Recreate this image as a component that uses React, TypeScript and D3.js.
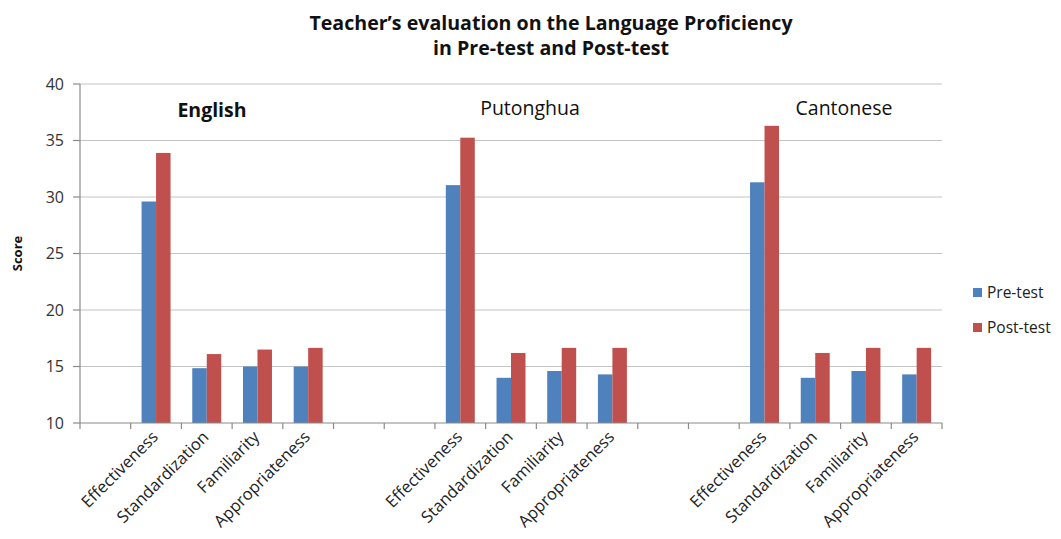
import React from "react";
import * as d3 from "d3";

const groups = ["English", "Putonghua", "Cantonese"];
const criteria = ["Effectiveness", "Standardization", "Familiarity", "Appropriateness"];
const series = ["Pre-test", "Post-test"];
const colours = ["#4F81BD", "#C0504D"];

// scores per group, in criteria order
const preTest = [
  [29.6, 14.85, 15.0, 15.0],
  [31.05, 14.0, 14.6, 14.3],
  [31.3, 14.0, 14.6, 14.3],
];
const postTest = [
  [33.9, 16.1, 16.5, 16.65],
  [35.25, 16.2, 16.65, 16.65],
  [36.3, 16.2, 16.65, 16.65],
];
const yTicks = [10, 15, 20, 25, 30, 35, 40];
const blanksBefore = [1, 2, 2];
const groupLabelX = [212, 530, 844];

const font = "'Open Sans', Lato, sans-serif";

type Slot = { id: string; label: string; g: number; c: number };

function buildSlots(): Slot[] {
  let slots: Slot[] = [];
  groups.forEach((g, gi) => {
    for (let b = 0; b < blanksBefore[gi]; b++) slots.push({ id: g + "-blank" + b, label: "", g: gi, c: -1 });
    criteria.forEach((c, ci) => slots.push({ id: g + "-" + c, label: c, g: gi, c: ci }));
  });
  return slots;
}

export default function App() {
  const width = 1061;
  const height = 539;
  const left = 80, right = 942, top = 84, bottom = 423;

  const slots = buildSlots();
  const x = d3.scaleBand<string>().domain(slots.map(s => s.id)).range([left, right]);
  const inner = d3.scaleBand<string>().domain(series).range([0, x.bandwidth()]).paddingOuter(0.75);
  const y = d3.scaleLinear().domain([10, 40]).range([bottom, top]);

  const tickXs = d3.range(slots.length + 1).map(i => left + i * x.step());

  return (
    <div style={{ position: "absolute", left: 0, top: 0 }}>
      <svg width={width} height={height} style={{ display: "block", fontFamily: font }}>
        <rect width={width} height={height} fill="#fff" />
        <text x={551} y={30} textAnchor="middle" fontSize={19.6} fontWeight="bold" fill="#111">
          Teacher’s evaluation on the Language Proficiency
        </text>
        <text x={551} y={55} textAnchor="middle" fontSize={19.6} fontWeight="bold" fill="#111">
          in Pre-test and Post-test
        </text>

        {yTicks.map(t => (
          <g key={t}>
            {t > 10 && <line x1={left} x2={right} y1={y(t)} y2={y(t)} stroke="#c4c4c4" strokeWidth={1.2} />}
            <line x1={left - 7} x2={left} y1={y(t)} y2={y(t)} stroke="#8a8a8a" strokeWidth={1.2} />
            <text x={left - 16} y={y(t)} dy="0.36em" textAnchor="end" fontSize={16} fill="#333">{t}</text>
          </g>
        ))}

        {slots.filter(s => s.c >= 0).map(s => {
          const vals = [preTest[s.g][s.c], postTest[s.g][s.c]];
          return series.map((name, si) => (
            <rect key={s.id + name}
              x={x(s.id)! + inner(name)!}
              y={y(vals[si])}
              width={inner.bandwidth()}
              height={bottom - y(vals[si])}
              fill={colours[si]} />
          ));
        })}

        <line x1={left} x2={left} y1={top} y2={bottom} stroke="#8a8a8a" strokeWidth={1.2} />
        <line x1={left} x2={right} y1={bottom} y2={bottom} stroke="#8a8a8a" strokeWidth={1.2} />
        {tickXs.map((tx, i) => (
          <line key={i} x1={tx} x2={tx} y1={bottom} y2={bottom + 6} stroke="#8a8a8a" strokeWidth={1.2} />
        ))}

        {slots.filter(s => s.c >= 0).map(s => {
          const cx = x(s.id)! + x.bandwidth() / 2 + 3;
          const cy = bottom + 15;
          return (
            <text key={s.id + "-lbl"} transform={`translate(${cx},${cy}) rotate(-45)`}
              textAnchor="end" fontSize={16.5} fill="#222">{s.label}</text>
          );
        })}

        {groups.map((g, gi) => (
          <text key={g} x={groupLabelX[gi]} y={gi === 0 ? 117 : 115} textAnchor="middle" fontSize={19.5}
            fontWeight={gi === 0 ? 700 : 400} fill="#111">{g}</text>
        ))}

        <text transform={`translate(22,${(top + bottom) / 2}) rotate(-90)`} textAnchor="middle"
          fontSize={13} fontWeight="bold" fill="#111">Score</text>

        {series.map((name, si) => (
          <g key={name} transform={`translate(973,${288 + si * 35})`}>
            <rect width={9} height={9} fill={colours[si]} />
            <text x={14} y={4.5} dy="0.36em" fontSize={15.5} fill="#222">{name}</text>
          </g>
        ))}
      </svg>
    </div>
  );
}
